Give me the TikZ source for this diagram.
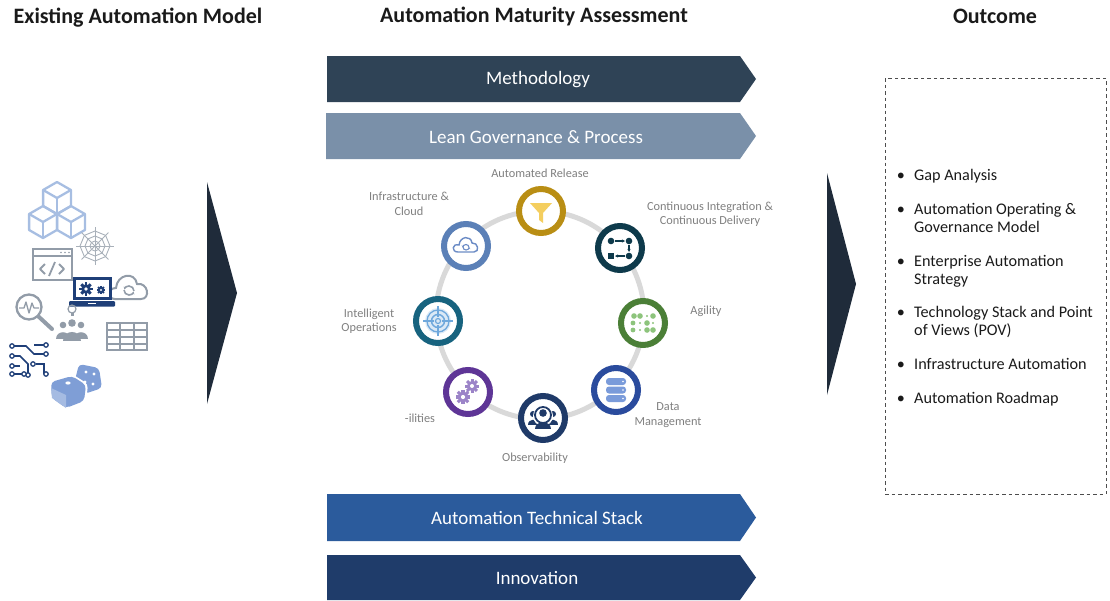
\documentclass[tikz,border=0pt]{standalone}
\usepackage{fontspec}
\setmainfont{Carlito}
\usetikzlibrary{arrows.meta}

\definecolor{titlec}{HTML}{1A1A1A}
\definecolor{methc}{HTML}{2F4356}
\definecolor{leanc}{HTML}{7A90A9}
\definecolor{techc}{HTML}{2B5B9C}
\definecolor{innoc}{HTML}{1F3C6A}
\definecolor{chevc}{HTML}{1F2B3A}
\definecolor{ringc}{HTML}{D9D9D9}
\definecolor{labc}{HTML}{7F7F7F}
\definecolor{goldc}{HTML}{B98E14}
\definecolor{funnelc}{HTML}{F4CE5F}
\definecolor{cicdc}{HTML}{0E3A4B}
\definecolor{agilc}{HTML}{4B7F37}
\definecolor{agildot}{HTML}{8DC47C}
\definecolor{datac}{HTML}{2A4B9D}
\definecolor{datafill}{HTML}{7A9BDA}
\definecolor{obsc}{HTML}{1F3A68}
\definecolor{ilitc}{HTML}{5E3596}
\definecolor{ilitfill}{HTML}{9C84C8}
\definecolor{intelc}{HTML}{17637F}
\definecolor{intelfill}{HTML}{6FA8DC}
\definecolor{infrac}{HTML}{5B80B7}
\definecolor{infrafill}{HTML}{6C8CC6}
\definecolor{cubec}{HTML}{A7BEE2}
\definecolor{greyicon}{HTML}{929CA8}
\definecolor{navyicon}{HTML}{1F3F78}
\definecolor{dicec}{HTML}{7F9ED6}
\definecolor{boxc}{HTML}{4D4D4D}

\tikzset{
  title/.style={font=\bfseries\fontsize{22}{26}\selectfont, text=titlec, inner sep=0pt},
  bannertext/.style={font=\fontsize{19}{22}\selectfont, text=white, inner sep=0pt},
  ring/.style={draw=ringc, line width=5pt},
  iconring/.style={circle, fill=white, minimum size=44pt, line width=6pt, inner sep=0pt},
  steplabel/.style={font=\fontsize{12.3}{14.5}\selectfont, text=labc, align=center, inner sep=0pt},
  outitem/.style={font=\fontsize{16.2}{18}\selectfont, text=titlec, align=left, anchor=base west, inner sep=0pt},
  outbullet/.style={font=\fontsize{16.2}{18}\selectfont, text=titlec, anchor=base, inner sep=0pt},
  cube/.pic={
    \draw[line join=round] (0,-16) -- (13.9,-8) -- (13.9,8) -- (0,16) -- (-13.9,8) -- (-13.9,-8) -- cycle;
    \draw[line join=round] (-13.9,-8) -- (0,0) -- (13.9,-8);
    \draw (0,0) -- (0,16);
  },
  cog/.pic={
    \fill (0,0) circle (5);
    \foreach \a in {0,45,...,315} {\fill[rotate=\a] (-1.5,4) rectangle (1.5,7);}
    \fill[white] (0,0) circle (2);
  }
}

\begin{document}
\begin{tikzpicture}[x=1pt,y=-1pt]
\useasboundingbox (0,0) rectangle (1110,600);

% ---------- column titles ----------
\node[title] (tleft) at (138,18) {Existing Automation Model};
\node[title] (tmid) at (534,16) {Automation Maturity Assessment};
\node[title] (tright) at (995,16) {Outcome};

% ---------- banners ----------
\fill[methc] (327,56) -- (740,56) -- (756,79) -- (740,102) -- (327,102) -- cycle;
\node[bannertext] (meth) at (538,80) {Methodology};
\fill[leanc] (326,113) -- (740,113) -- (756,136) -- (740,159) -- (326,159) -- cycle;
\node[bannertext] (lean) at (536,137) {Lean Governance \& Process};
\fill[techc] (327,494) -- (740,494) -- (756,517.5) -- (740,541) -- (327,541) -- cycle;
\node[bannertext] (tech) at (537,518) {Automation Technical Stack};
\fill[innoc] (327,555) -- (740,555) -- (756,577.5) -- (740,600) -- (327,600) -- cycle;
\node[bannertext] (inno) at (537,578) {Innovation};

% ---------- chevrons ----------
\fill[chevc] (207,182) -- (237,293) -- (207,404) -- cycle;
\fill[chevc] (827,173) -- (856,284) -- (827,395) -- cycle;

% ---------- maturity ring ----------
\draw[ring] (540,315) circle (104);

\node[iconring, draw=goldc]  (ar)  at (541,211) {};
\node[iconring, draw=cicdc]  (ci)  at (620,248) {};
\node[iconring, draw=agilc]  (ag)  at (643,323) {};
\node[iconring, draw=datac]  (dm)  at (616,390) {};
\node[iconring, draw=obsc]   (ob)  at (543,418) {};
\node[iconring, draw=ilitc]  (il)  at (468,392) {};
\node[iconring, draw=intelc] (io)  at (438,321) {};
\node[iconring, draw=infrac] (ic)  at (466,246) {};

% funnel
\begin{scope}[shift={(ar.center)}]
  \fill[funnelc] (-11,-8) -- (11,-8) -- (2,2) -- (2,12) -- (-2,9) -- (-2,2) -- cycle;
\end{scope}
% pipeline
\begin{scope}[shift={(ci.center)}, cicdc]
  \fill (-9,-7) circle (3.3);
  \fill (9,-7) circle (3.3);
  \fill (9,8) circle (3.3);
  \fill (-12.3,4.7) rectangle (-5.7,11.3);
  \draw[line width=1.2pt, -{Stealth[length=3pt,width=3pt]}] (-5,-7) -- (5,-7);
  \draw[line width=1.2pt, -{Stealth[length=3pt,width=3pt]}] (9,-3) -- (9,4);
  \draw[line width=1.2pt, -{Stealth[length=3pt,width=3pt]}] (5,8) -- (-5,8);
\end{scope}
% agility dots
\begin{scope}[shift={(ag.center)}, agildot]
  \fill (-9,-7) circle (2.8); \fill (-3,-7) circle (2.8); \fill (4,-7) circle (1.2); \fill (10,-7) circle (2.8);
  \fill (-10,0) circle (2.4); \fill (-3,0) circle (1.2); \fill (4,0) circle (2.8); \fill (10,0) circle (1.2);
  \fill (-10,7) circle (2.4); \fill (-3,7) circle (1.2); \fill (4,7) circle (2.8); \fill (10,7) circle (2.8);
\end{scope}
% database
\begin{scope}[shift={(dm.center)}]
  \fill[datafill, rounded corners=3pt] (-10,-12) rectangle (10,-5);
  \fill[datafill, rounded corners=3pt] (-10,-3.5) rectangle (10,3.5);
  \fill[datafill, rounded corners=3pt] (-10,5) rectangle (10,12);
  \fill[white] (7,-8.5) circle (0.9) (7,0) circle (0.9) (7,8.5) circle (0.9);
\end{scope}
% observers
\begin{scope}[shift={(ob.center)}, obsc]
  \fill (-10,-4) circle (3);
  \fill (10,-4) circle (3);
  \fill (-15,7) .. controls (-15,0) and (-5,0) .. (-5,7) -- cycle;
  \fill (5,7) .. controls (5,0) and (15,0) .. (15,7) -- cycle;
  \fill[white] (0,-2) circle (10);
  \draw[line width=1.8pt] (0,-3) circle (8);
  \fill (0,-5) circle (3.8);
  \fill (-8,11) .. controls (-8,2) and (8,2) .. (8,11) -- cycle;
\end{scope}
% gears
\begin{scope}[shift={(il.center)}, ilitfill]
  \pic at (4,-6) [scale=1] {cog};
  \pic at (-5,5) [scale=1.05] {cog};
\end{scope}
% target
\begin{scope}[shift={(io.center)}, intelfill]
  \fill[intelfill!25] (0,0) circle (13);
  \draw[line width=1.3pt] (0,0) circle (11);
  \draw[line width=1.5pt] (0,0) circle (6.5);
  \draw[line width=1.2pt] (0,0) circle (2.5);
  \draw[line width=1.2pt] (-15,0) -- (-4,0) (4,0) -- (15,0) (0,-15) -- (0,-4) (0,4) -- (0,15);
\end{scope}
% cloud
\begin{scope}[shift={(ic.center)}, infrafill, line width=1.4pt]
  \draw (-8,6) .. controls (-15,6) and (-14,-3) .. (-7,-1)
        .. controls (-6,-10) and (5,-11) .. (6,-3)
        .. controls (12,-4) and (14,6) .. (8,6) -- cycle;
  \draw[line width=1.1pt, -{Stealth[length=2pt,width=2.5pt]}] (-3,1) arc (180:0:3);
  \draw[line width=1.1pt, -{Stealth[length=2pt,width=2.5pt]}] (3,1.5) arc (0:-180:3);
\end{scope}

% ring labels
\node[steplabel] (lar) at (540,173) {Automated Release};
\node[steplabel] (lci) at (710,214) {Continuous Integration \&\\Continuous Delivery};
\node[steplabel] (lag) at (706,311) {Agility};
\node[steplabel] (ldm) at (668,415) {Data\\Management};
\node[steplabel] (lob) at (535,458) {Observability};
\node[steplabel] (lil) at (420,418) {-ilities};
\node[steplabel] (lio) at (369,321) {Intelligent\\Operations};
\node[steplabel] (lic) at (409,204) {Infrastructure \&\\Cloud};

% ---------- outcome box ----------
\node[draw=boxc, dash pattern=on 3.5pt off 3pt, line width=0.9pt, minimum width=221pt, minimum height=416pt, inner sep=0pt] (outbox) at (995.5,286) {};

% multi-line items are placed by the baseline of their last line
\node[outbullet] (b1) at (901,180) {\textbullet};
\node[outitem] (o1) at (914,180) {Gap Analysis};
\node[outbullet] (b2) at (901,214) {\textbullet};
\node[outitem] (o2) at (914,232) {Automation Operating \&\\Governance Model};
\node[outbullet] (b3) at (901,266) {\textbullet};
\node[outitem] (o3) at (914,284) {Enterprise Automation\\Strategy};
\node[outbullet] (b4) at (901,317) {\textbullet};
\node[outitem] (o4) at (914,335) {Technology Stack and Point\\of Views (POV)};
\node[outbullet] (b5) at (901,369) {\textbullet};
\node[outitem] (o5) at (914,369) {Infrastructure Automation};
\node[outbullet] (b6) at (901,403) {\textbullet};
\node[outitem] (o6) at (914,403) {Automation Roadmap};

% ---------- existing automation icon cluster ----------
% cubes
\begin{scope}[cubec, line width=2.3pt]
  \pic at (57,198) {cube};
  \pic at (43,222) {cube};
  \pic at (71,222) {cube};
\end{scope}
% spider web
\begin{scope}[shift={(95,246)}, greyicon!80, line width=0.9pt]
  \foreach \a in {0,45,...,315} {\draw (0,0) -- (\a:19);}
  \foreach \r in {5,10,15} {\draw (0:\r) -- (45:\r) -- (90:\r) -- (135:\r) -- (180:\r) -- (225:\r) -- (270:\r) -- (315:\r) -- cycle;}
\end{scope}
% code window
\begin{scope}[greyicon, line width=2pt]
  \draw (33,249) rectangle (72,280);
  \draw (33,256) -- (72,256);
  \fill (61,252.5) circle (0.9) (65,252.5) circle (0.9) (69,252.5) circle (0.9);
  \draw[line width=1.8pt, line join=round] (45,264) -- (40,269) -- (45,274);
  \draw[line width=1.8pt] (49,276) -- (55,262);
  \draw[line width=1.8pt, line join=round] (59,264) -- (64,269) -- (59,274);
\end{scope}
% cloud with refresh
\begin{scope}[shift={(129,288)}, greyicon, line width=2pt]
  \draw (-14,11) .. controls (-22,11) and (-22,0) .. (-13,0)
        .. controls (-12,-14) and (6,-17) .. (8,-4)
        .. controls (19,-6) and (22,11) .. (12,11) -- cycle;
  \draw[line width=1.6pt, -{Stealth[length=2.5pt,width=3pt]}] (-5,2) arc (180:20:5);
  \draw[line width=1.6pt, -{Stealth[length=2.5pt,width=3pt]}] (5,3) arc (0:-160:5);
\end{scope}
% laptop with gears
\begin{scope}[navyicon]
  \fill[white] (74,278) rectangle (111,299);
  \draw[line width=2.4pt] (74.5,278.5) rectangle (110.5,298.5);
  \fill[rounded corners=1pt] (69,301) rectangle (115,306.5);
  \fill[white] (88,302.5) rectangle (96,304);
  \pic at (86,289) [scale=0.95] {cog};
  \pic at (101,290) [scale=0.6] {cog};
\end{scope}
% magnifier with pulse
\begin{scope}[greyicon, line width=2.3pt]
  \fill[white] (29,307) circle (12);
  \draw (29,307) circle (12.5);
  \draw[line width=4pt, line cap=round] (38.5,316.5) -- (52,329);
  \draw[line width=1.3pt, line join=round] (19,308) -- (24,308) -- (26,302) -- (29,313) -- (32,303) -- (34,308) -- (39,308);
\end{scope}
% team with idea bulb
\begin{scope}[greyicon]
  \draw[line width=1.2pt] (72,309) circle (4);
  \fill (70.5,313) rectangle (73.5,316);
  \fill (63,325) circle (3.3);
  \fill (81,325) circle (3.3);
  \fill (56,339) .. controls (56,330) and (70,330) .. (70,339) -- cycle;
  \fill (74,339) .. controls (74,330) and (88,330) .. (88,339) -- cycle;
  \fill[white] (72,323) circle (5);
  \fill (72,323) circle (3.8);
  \fill (63,341) .. controls (63,329) and (81,329) .. (81,341) -- cycle;
\end{scope}
% table grid
\begin{scope}[greyicon, line width=2pt]
  \draw (107,323) rectangle (147,350);
  \draw (107,330) -- (147,330) (107,337) -- (147,337) (107,344) -- (147,344);
  \draw (120.3,323) -- (120.3,350) (133.7,323) -- (133.7,350);
\end{scope}
% circuit
\begin{scope}[navyicon, line width=1.6pt]
  \draw (14,346) -- (26,346) -- (34,354) -- (44,354);
  \draw (14,356) -- (20,356) -- (28,364) -- (28,374);
  \draw (14,366) -- (20,366);
  \draw (14,374) -- (22,374);
  \draw (34,345) -- (44,345);
  \draw (36,364) -- (44,364) -- (44,374);
  \foreach \p in {(12,346),(12,356),(12,366),(12,374),(46,345),(46,354),(28,375),(46,374),(33,364),(24,374)}
    {\fill[white] \p circle (2.2); \draw[line width=1.3pt] \p circle (2.2);}
\end{scope}
% dice
\begin{scope}[dicec]
  \fill[rounded corners=4pt] (79,364) -- (99,368) -- (102,388) -- (84,394) -- (75,380) -- cycle;
  \fill[white] (86,372) circle (1.7) (94,374) circle (1.7) (85,382) circle (1.7) (93,384) circle (1.7);
  \fill[white, rounded corners=4pt] (49,381) -- (72,374) -- (88,384) -- (86,402) -- (66,410) -- (50,399) -- cycle;
  \fill[rounded corners=4pt] (51,382) -- (72,376) -- (86,385) -- (84,401) -- (66,408) -- (52,398) -- cycle;
  \fill[white] (68,383) ellipse (2.6 and 1.6);
  \fill[dicec!70!white] (51,388) -- (66,395) -- (66,408) -- (52,398) -- cycle;
\end{scope}

\end{tikzpicture}
\end{document}
